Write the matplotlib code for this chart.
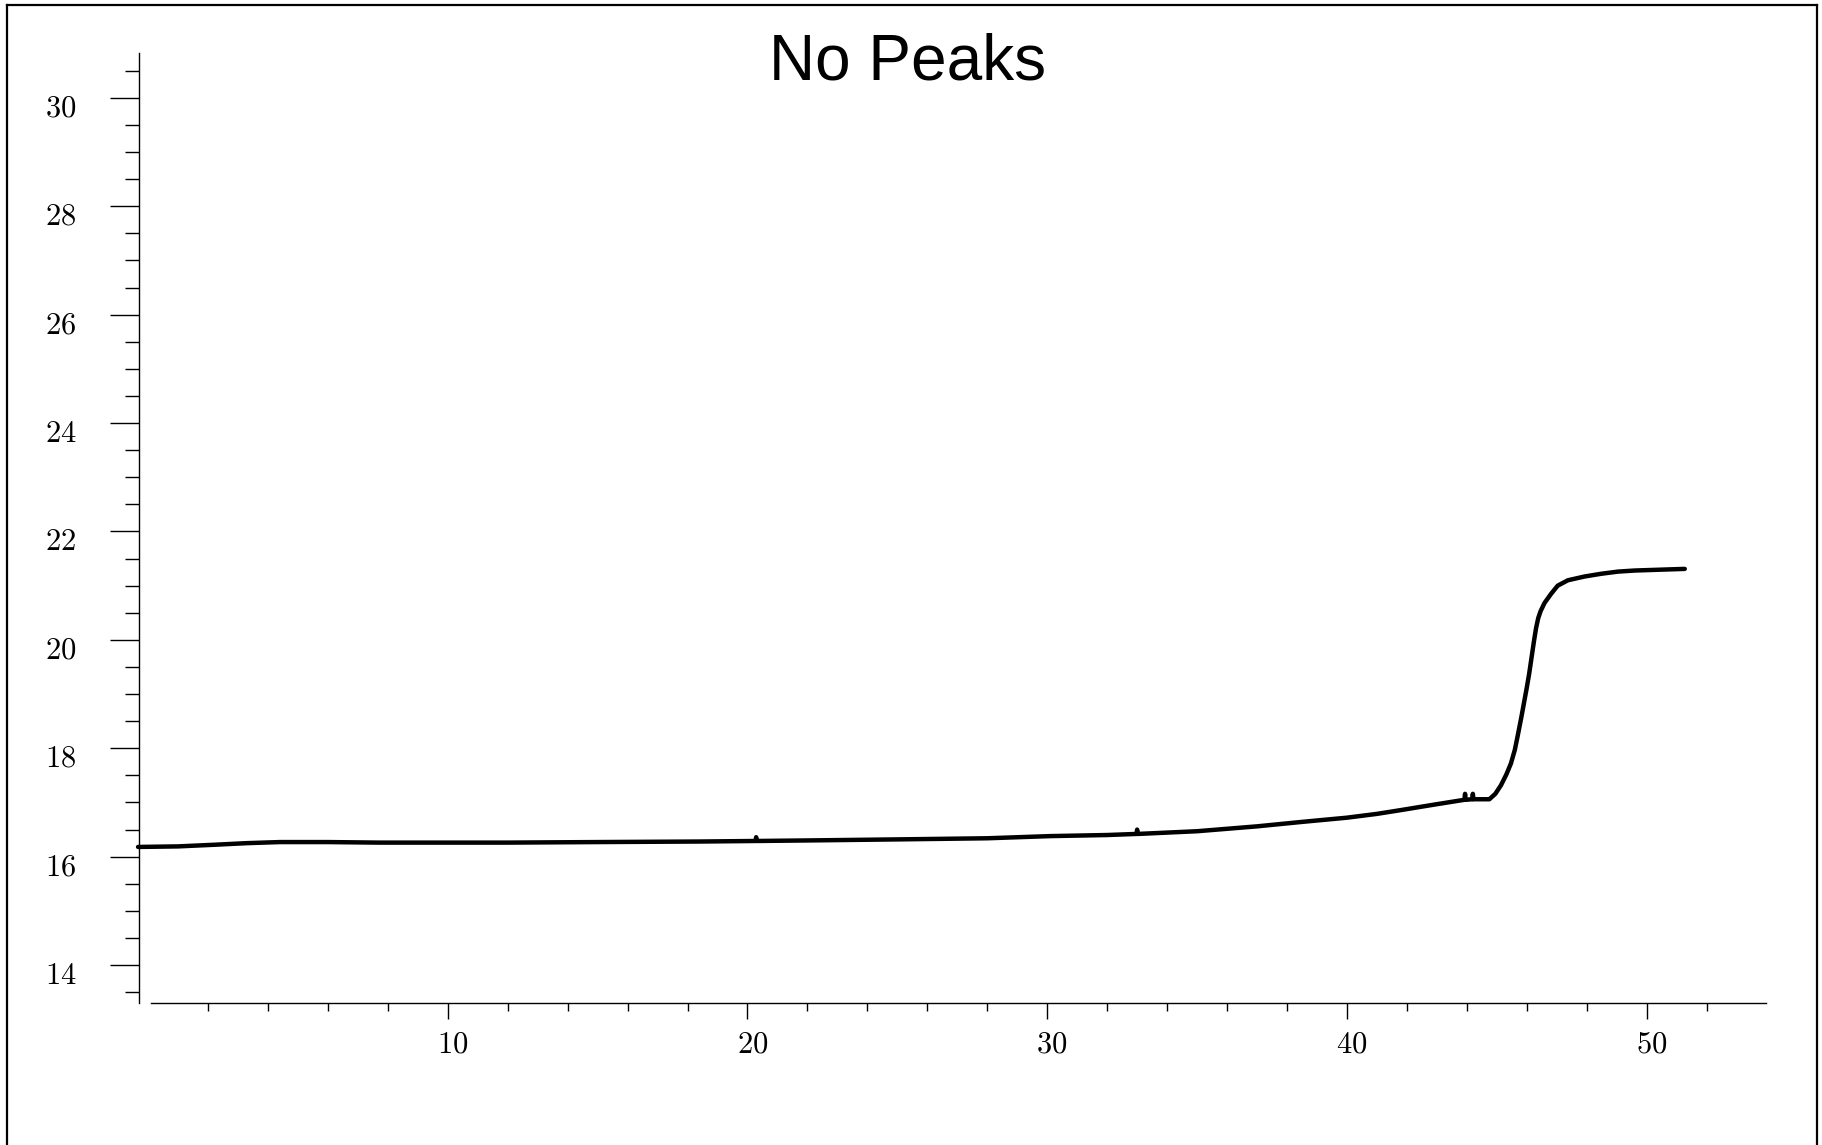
import matplotlib
matplotlib.use("Agg")
import matplotlib.pyplot as plt
from matplotlib.lines import Line2D
from matplotlib.ticker import FixedLocator, FixedFormatter
from matplotlib.transforms import ScaledTranslation

plt.rcParams['mathtext.fontset'] = 'cm'

# ---- data ----
time_x = [-0.33, 1.0, 2.2, 3.3, 4.4, 6.0, 7.7, 10.0, 12.0, 15.0, 18.4,
          20.27, 20.29, 20.31, 22.0, 25.1, 28.0, 30.1, 32.0,
          32.98, 33.0, 33.02, 35.0, 37.0, 38.46, 40.0, 41.0, 41.8, 42.9,
          43.92, 43.94, 43.96, 44.18, 44.2, 44.22, 44.75, 44.95, 45.14, 45.32,
          45.47, 45.60, 45.70, 45.82, 45.92, 46.0, 46.08, 46.16, 46.24, 46.31,
          46.38, 46.46, 46.59, 46.81, 47.03, 47.37, 47.93, 48.48, 49.04, 49.6,
          50.7, 51.27]
signal_y = [16.18, 16.19, 16.22, 16.25, 16.27, 16.27, 16.26, 16.26, 16.26, 16.27, 16.28,
            16.29, 16.36, 16.29, 16.30, 16.32, 16.34, 16.38, 16.40,
            16.42, 16.50, 16.42, 16.47, 16.56, 16.64, 16.72, 16.79, 16.86, 16.96,
            17.05, 17.16, 17.05, 17.06, 17.16, 17.06, 17.06, 17.16, 17.32, 17.52,
            17.72, 17.97, 18.24, 18.58, 18.88, 19.12, 19.38, 19.68, 19.98, 20.22,
            20.40, 20.53, 20.68, 20.85, 21.00, 21.10, 21.17, 21.22, 21.26, 21.28,
            21.30, 21.31]

y_major = [14, 16, 18, 20, 22, 24, 26, 28, 30]
y_minor = [13.5 + 0.5 * i for i in range(35) if (13.5 + 0.5 * i) % 2 != 0]
x_major = [10, 20, 30, 40, 50]
x_minor = [2, 4, 6, 8, 12, 14, 16, 18, 22, 24, 26, 28, 32, 34, 36, 38,
           42, 44, 46, 48, 52]
title_text = "No Peaks"

# ---- figure ----
W, H, DPI = 1822, 1145, 100
fig = plt.figure(figsize=(W / DPI, H / DPI), dpi=DPI)
ax = fig.add_axes([0, 0, 1, 1])
ax.set_facecolor('none')

# pixel calibration of the reference
x0_px, x_scale = 147.95, 29.975      # pixel of x=0, px per unit
y16_px, y_scale = 856.7, 54.2        # pixel (from top) of y=16, px per unit
ax.set_xlim((0 - x0_px) / x_scale, (W - x0_px) / x_scale)
ax.set_ylim(16 - (H - y16_px) / y_scale, 16 + y16_px / y_scale)

ax.plot(time_x, signal_y, color='black', lw=3.2, solid_joinstyle='round',
        solid_capstyle='round')

for s in ['top', 'right']:
    ax.spines[s].set_visible(False)
ax.spines['left'].set_position(('data', -0.31))
ax.spines['left'].set_bounds(13.30, 30.82)
ax.spines['bottom'].set_position(('data', 13.295))
ax.spines['bottom'].set_bounds(0.10, 53.97)
for s in ['left', 'bottom']:
    ax.spines[s].set_linewidth(1.0)
    ax.spines[s].set_color('black')

ax.yaxis.set_major_locator(FixedLocator(y_major))
ax.yaxis.set_minor_locator(FixedLocator(y_minor))
ax.yaxis.set_major_formatter(FixedFormatter([f'${v}$' for v in y_major]))
ax.xaxis.set_major_locator(FixedLocator(x_major))
ax.xaxis.set_minor_locator(FixedLocator(x_minor))
ax.xaxis.set_major_formatter(FixedFormatter([f'${v}$' for v in x_major]))

ax.tick_params(axis='y', which='major', direction='out', length=20.9, width=1.0,
               pad=24, labelsize=22)
ax.tick_params(axis='y', which='minor', direction='out', length=10.1, width=1.0)
ax.tick_params(axis='x', which='major', direction='out', length=11.5, width=1.0,
               pad=7.5, labelsize=22)
ax.tick_params(axis='x', which='minor', direction='out', length=5.8, width=1.0)

fig.canvas.draw()
for lab in ax.get_yticklabels():
    lab.set_transform(lab.get_transform() + ScaledTranslation(0, -7 / DPI, fig.dpi_scale_trans))
for lab in ax.get_xticklabels():
    lab.set_transform(lab.get_transform() + ScaledTranslation(5 / DPI, 0, fig.dpi_scale_trans))

# title
fig.text(907.5 / W, 1 - 80 / H, title_text, ha='center', va='baseline',
         fontsize=46, family='Liberation Sans', color='black')

# outer frame (left, top, right)
fig.add_artist(Line2D([7.3 / W, 7.3 / W], [0, 1 - 4.7 / H], transform=fig.transFigure,
                      color='black', lw=1.6))
fig.add_artist(Line2D([7.3 / W, 1816.7 / W], [1 - 4.7 / H, 1 - 4.7 / H],
                      transform=fig.transFigure, color='black', lw=1.6))
fig.add_artist(Line2D([1816.7 / W, 1816.7 / W], [0, 1 - 4.7 / H], transform=fig.transFigure,
                      color='black', lw=1.6))

fig.savefig('out.png', dpi=DPI, facecolor='white')
